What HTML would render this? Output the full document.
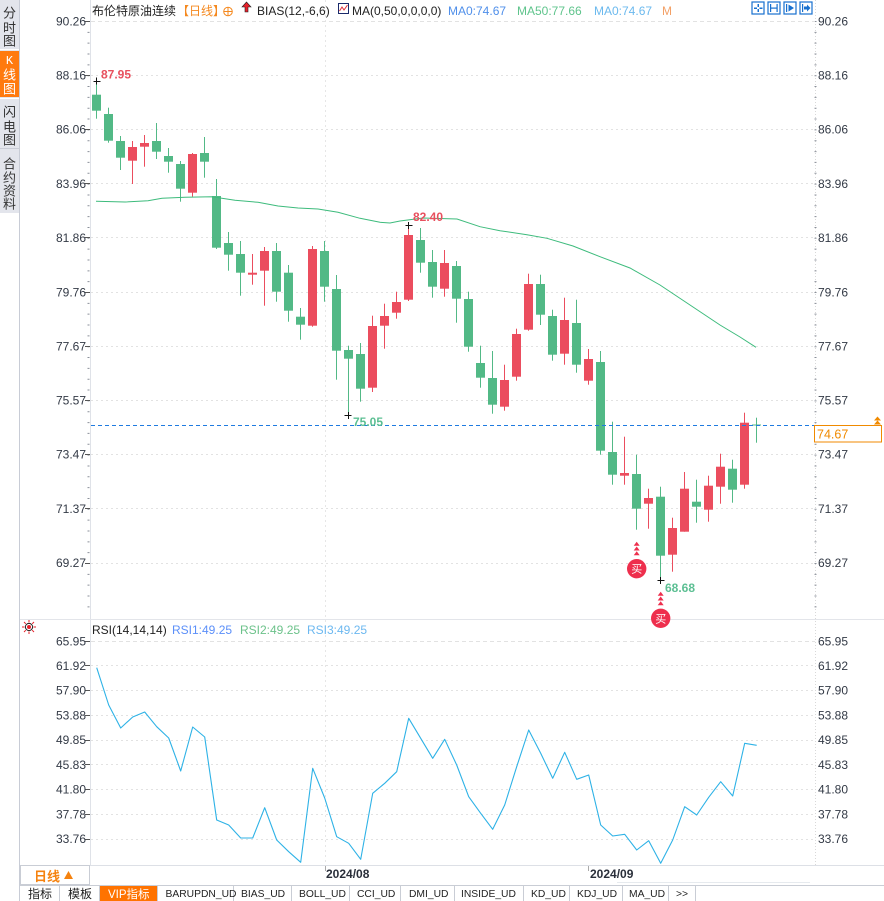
<!DOCTYPE html>
<html><head><meta charset="utf-8"><style>
html,body{margin:0;padding:0;background:#fff;}
svg{display:block;}
text{font-family:"Liberation Sans","Noto Sans CJK SC",sans-serif;}
.ax{font-size:12px;fill:#333a46;}
.tab{font-family:"Liberation Mono","Noto Sans CJK SC",monospace;font-size:10.3px;fill:#222;}
</style></head><body>
<svg width="884" height="901" viewBox="0 0 884 901" xmlns="http://www.w3.org/2000/svg">
<rect x="0" y="0" width="884" height="901" fill="#fff"/>

<!-- left sidebar -->
<rect x="0" y="0" width="19" height="213" fill="#e3e5ec"/>
<rect x="0" y="51" width="19" height="46" fill="#ff7a0e"/>
<line x1="0" y1="49.5" x2="19" y2="49.5" stroke="#fff"/>
<line x1="0" y1="98.5" x2="19" y2="98.5" stroke="#fff"/>
<line x1="0" y1="148.5" x2="19" y2="148.5" stroke="#c9ccd6"/>
<line x1="19.5" y1="0" x2="19.5" y2="901" stroke="#c8ccd6"/>
<g font-size="13" text-anchor="middle" fill="#333">
<text x="9.5" y="17.5">分</text><text x="9.5" y="32.5">时</text><text x="9.5" y="45.5">图</text>
<text x="9.5" y="64" fill="#fff" style="font-family:'Liberation Mono',monospace" font-size="12">K</text><text x="9.5" y="79.5" fill="#fff">线</text><text x="9.5" y="93.5" fill="#fff">图</text>
<text x="9.5" y="116.5">闪</text><text x="9.5" y="131.5">电</text><text x="9.5" y="144.5">图</text>
<text x="9.5" y="168.5">合</text><text x="9.5" y="182.5">约</text><text x="9.5" y="195.5">资</text><text x="9.5" y="208.5">料</text>
</g>

<!-- header -->
<text x="92" y="15" font-size="12" fill="#222">布伦特原油连续</text>
<text x="177" y="15" font-size="12" fill="#f5891f">【日线】</text>
<circle cx="228" cy="11.5" r="4.3" fill="none" stroke="#f5891f" stroke-width="1"/>
<line x1="223.7" y1="11.5" x2="232.3" y2="11.5" stroke="#f5891f"/>
<line x1="228" y1="7.2" x2="228" y2="15.8" stroke="#f5891f"/>
<polygon points="246.5,2 251,7 248,7 248,12 245,12 245,7 242,7" fill="#e8202a" stroke="#222" stroke-width="0.6"/>
<text x="257" y="15" font-size="12" fill="#222">BIAS(12,-6,6)</text>
<rect x="338.5" y="3.5" width="10" height="10" fill="#fff" stroke="#1b2a6b"/>
<polyline points="339.5,11 342,7 344,10 347.5,5" fill="none" stroke="#e0303a" stroke-width="1"/>
<text x="352" y="15" font-size="12" fill="#222">MA(0,50,0,0,0,0)</text>
<text x="448" y="15" font-size="12" fill="#4f8fea">MA0:74.67</text>
<text x="517" y="15" font-size="12" fill="#5fc48c">MA50:77.66</text>
<text x="594" y="15" font-size="12" fill="#6bb9ee">MA0:74.67</text>
<text x="662" y="15" font-size="12" fill="#f3a066">M</text>

<!-- top right icons -->
<g fill="none" stroke="#1870cf" stroke-width="1.2">
<rect x="752" y="2" width="12" height="12"/><rect x="768" y="2" width="12" height="12"/>
<rect x="784" y="2" width="12" height="12"/><rect x="800" y="2" width="12" height="12"/>
</g>
<g fill="#1870cf">
<rect x="757.5" y="4" width="1.5" height="3"/><rect x="757.5" y="9" width="1.5" height="3"/>
<rect x="754" y="7.5" width="3" height="1.5"/><rect x="759.5" y="7.5" width="3" height="1.5"/>
<rect x="770" y="4" width="1.2" height="8"/><rect x="776.5" y="4" width="1.2" height="8"/><rect x="771" y="7.5" width="5.5" height="1.2"/>
<rect x="786" y="4" width="1.2" height="8"/><polygon points="788.5,4.5 794,8 788.5,11.5"/>
<rect x="802" y="4" width="1.2" height="8"/><polygon points="804,6.5 807,6.5 807,4.5 810.5,8 807,11.5 807,9.5 804,9.5"/>
</g>

<!-- main pane grid -->
<line x1="90.5" y1="0" x2="90.5" y2="865" stroke="#dfe2e8"/>
<line x1="815.5" y1="0" x2="815.5" y2="865" stroke="#d8d8d8" stroke-dasharray="1,2"/>
<line x1="88.5" y1="21" x2="88.5" y2="612" stroke="#8a8f99" stroke-width="2" stroke-dasharray="1,9.84"/>
<line x1="815.5" y1="21" x2="815.5" y2="612" stroke="#8a8f99" stroke-width="2" stroke-dasharray="1,9.84"/>
<line x1="325.5" y1="0" x2="325.5" y2="865" stroke="#e6e6e6" stroke-dasharray="2,3"/>
<g stroke="#e2e2e2" stroke-dasharray="2,3">
<line x1="91" y1="21.5" x2="815" y2="21.5" stroke-dasharray="4,3"/>
<line x1="91" y1="75.5" x2="815" y2="75.5"/>
<line x1="91" y1="129.5" x2="815" y2="129.5"/>
<line x1="91" y1="183.5" x2="815" y2="183.5"/>
<line x1="91" y1="237.5" x2="815" y2="237.5"/>
<line x1="91" y1="292.5" x2="815" y2="292.5"/>
<line x1="91" y1="346.5" x2="815" y2="346.5"/>
<line x1="91" y1="400.5" x2="815" y2="400.5"/>
<line x1="91" y1="454.5" x2="815" y2="454.5"/>
<line x1="91" y1="508.5" x2="815" y2="508.5"/>
<line x1="91" y1="563.5" x2="815" y2="563.5"/>
</g>
<g stroke="#555" stroke-width="1">
<line x1="85" y1="21.5" x2="90" y2="21.5"/><line x1="85" y1="75.5" x2="90" y2="75.5"/><line x1="85" y1="129.5" x2="90" y2="129.5"/>
<line x1="85" y1="183.5" x2="90" y2="183.5"/><line x1="85" y1="237.5" x2="90" y2="237.5"/><line x1="85" y1="292.5" x2="90" y2="292.5"/>
<line x1="85" y1="346.5" x2="90" y2="346.5"/><line x1="85" y1="400.5" x2="90" y2="400.5"/><line x1="85" y1="454.5" x2="90" y2="454.5"/>
<line x1="85" y1="508.5" x2="90" y2="508.5"/><line x1="85" y1="563.5" x2="90" y2="563.5"/>
</g>
<g class="ax" text-anchor="end">
<text x="86" y="25.5">90.26</text><text x="86" y="79.5">88.16</text><text x="86" y="133.5">86.06</text>
<text x="86" y="188">83.96</text><text x="86" y="242">81.86</text><text x="86" y="296.5">79.76</text>
<text x="86" y="350.5">77.67</text><text x="86" y="404.5">75.57</text><text x="86" y="458.5">73.47</text>
<text x="86" y="513">71.37</text><text x="86" y="567">69.27</text>
</g>
<g class="ax">
<text x="818" y="25.5">90.26</text><text x="818" y="79.5">88.16</text><text x="818" y="133.5">86.06</text>
<text x="818" y="188">83.96</text><text x="818" y="242">81.86</text><text x="818" y="296.5">79.76</text>
<text x="818" y="350.5">77.67</text><text x="818" y="404.5">75.57</text><text x="818" y="458.5">73.47</text>
<text x="818" y="513">71.37</text><text x="818" y="567">69.27</text>
</g>

<!-- candles green -->
<g fill="#52b986">
<rect x="96" y="81" width="1" height="37.7"/><rect x="92" y="94.7" width="9" height="16"/>
<rect x="108" y="107.7" width="1" height="35"/><rect x="104" y="114" width="9" height="26.7"/>
<rect x="120" y="136" width="1" height="34"/><rect x="116" y="141" width="9" height="16.7"/>
<rect x="156" y="123" width="1" height="36"/><rect x="152" y="141" width="9" height="10.7"/>
<rect x="168" y="148" width="1" height="24.7"/><rect x="164" y="156" width="9" height="5.7"/>
<rect x="180" y="161" width="1" height="40.7"/><rect x="176" y="164" width="9" height="24.7"/>
<rect x="204" y="137" width="1" height="40.7"/><rect x="200" y="153" width="9" height="8.7"/>
<rect x="216" y="179" width="1" height="70"/><rect x="212" y="196" width="9" height="51.7"/>
<rect x="228" y="232" width="1" height="38.7"/><rect x="224" y="243" width="9" height="11.7"/>
<rect x="240" y="241" width="1" height="54.7"/><rect x="236" y="254" width="9" height="18.7"/>
<rect x="276" y="243" width="1" height="58.7"/><rect x="272" y="251" width="9" height="40.7"/>
<rect x="288" y="265" width="1" height="56.7"/><rect x="284" y="272.7" width="9" height="38"/>
<rect x="300" y="308" width="1" height="31.7"/><rect x="296" y="316.7" width="9" height="8"/>
<rect x="324" y="241" width="1" height="60.7"/><rect x="320" y="251" width="9" height="35.7"/>
<rect x="336" y="275" width="1" height="104.7"/><rect x="332" y="289" width="9" height="61.7"/>
<rect x="348" y="345.7" width="1" height="69.3"/><rect x="344" y="350" width="9" height="8.7"/>
<rect x="360" y="343" width="1" height="58.7"/><rect x="356" y="354" width="9" height="34.7"/>
<rect x="420" y="228" width="1" height="44.7"/><rect x="416" y="240" width="9" height="22.7"/>
<rect x="432" y="250" width="1" height="47.7"/><rect x="428" y="262" width="9" height="24.7"/>
<rect x="456" y="261" width="1" height="61.7"/><rect x="452" y="266" width="9" height="32.7"/>
<rect x="468" y="291.7" width="1" height="60"/><rect x="464" y="299" width="9" height="47.7"/>
<rect x="480" y="345.7" width="1" height="42"/><rect x="476" y="363" width="9" height="14.7"/>
<rect x="492" y="351" width="1" height="62.7"/><rect x="488" y="378" width="9" height="26.7"/>
<rect x="540" y="274.7" width="1" height="50.3"/><rect x="536" y="284" width="9" height="30.7"/>
<rect x="552" y="309.7" width="1" height="51"/><rect x="548" y="316" width="9" height="38.7"/>
<rect x="576" y="299.7" width="1" height="73"/><rect x="572" y="323" width="9" height="41.7"/>
<rect x="600" y="351" width="1" height="103.7"/><rect x="596" y="362" width="9" height="88.7"/>
<rect x="612" y="421.7" width="1" height="63"/><rect x="608" y="452" width="9" height="22.7"/>
<rect x="636" y="454.7" width="1" height="75"/><rect x="632" y="474" width="9" height="34.7"/>
<rect x="660" y="486.7" width="1" height="93.3"/><rect x="656" y="496.7" width="9" height="59"/>
<rect x="696" y="479.7" width="1" height="43"/><rect x="692" y="501.7" width="9" height="5"/>
<rect x="732" y="459.7" width="1" height="43"/><rect x="728" y="468.7" width="9" height="21"/>
<rect x="756" y="417.7" width="1" height="25"/><rect x="752" y="424.5" width="9" height="1"/>
</g>
<!-- candles red -->
<g fill="#eb4d5e">
<rect x="132" y="141" width="1" height="43"/><rect x="128" y="147" width="9" height="13.7"/>
<rect x="144" y="135" width="1" height="31.7"/><rect x="140" y="143" width="9" height="3.7"/>
<rect x="192" y="153" width="1" height="43.7"/><rect x="188" y="154" width="9" height="38.7"/>
<rect x="252" y="254" width="1" height="30.7"/><rect x="248" y="272.7" width="9" height="2"/>
<rect x="264" y="247" width="1" height="58.7"/><rect x="260" y="251" width="9" height="19.7"/>
<rect x="312" y="246" width="1" height="80.7"/><rect x="308" y="249" width="9" height="76.7"/>
<rect x="372" y="315.7" width="1" height="76.3"/><rect x="368" y="326" width="9" height="61.7"/>
<rect x="384" y="303.7" width="1" height="45"/><rect x="380" y="316" width="9" height="9.7"/>
<rect x="396" y="291.7" width="1" height="27"/><rect x="392" y="302" width="9" height="10.7"/>
<rect x="408" y="225" width="1" height="76"/><rect x="404" y="235" width="9" height="64.7"/>
<rect x="444" y="250" width="1" height="46.7"/><rect x="440" y="263" width="9" height="25.7"/>
<rect x="504" y="364.7" width="1" height="46"/><rect x="500" y="380" width="9" height="26.7"/>
<rect x="516" y="328.7" width="1" height="52"/><rect x="512" y="334" width="9" height="42.7"/>
<rect x="528" y="273.7" width="1" height="57"/><rect x="524" y="284" width="9" height="45.7"/>
<rect x="564" y="297.7" width="1" height="67"/><rect x="560" y="320" width="9" height="33.7"/>
<rect x="588" y="349" width="1" height="35.7"/><rect x="584" y="359" width="9" height="21.7"/>
<rect x="624" y="436.7" width="1" height="48"/><rect x="620" y="473" width="9" height="2.7"/>
<rect x="648" y="488.7" width="1" height="40"/><rect x="644" y="498" width="9" height="5.7"/>
<rect x="672" y="517.7" width="1" height="54"/><rect x="668" y="528" width="9" height="26.7"/>
<rect x="684" y="472" width="1" height="59.7"/><rect x="680" y="488.7" width="9" height="43"/>
<rect x="708" y="475.7" width="1" height="46"/><rect x="704" y="485.7" width="9" height="24"/>
<rect x="720" y="453.7" width="1" height="50"/><rect x="716" y="466.7" width="9" height="20"/>
<rect x="744" y="412.7" width="1" height="76"/><rect x="740" y="422.7" width="9" height="62"/>
</g>

<!-- MA50 -->
<path d="M96,201.3 L125,202 L148,200.7 L162,198.3 L185,197.3 L212,196.7 L235,200.3 L258,202.3 L278,206 L298,208 L318,209 L338,212.3 L360,218.3 L380,222.3 L390,223 L400,221 L423,218 L457,219 L480,226.7 L500,230.7 L527,234.7 L547,238.3 L573,246 L600,256.7 L630,268 L660,285 L690,305 L720,325 L740,337 L756,347.3" fill="none" stroke="#3dbb7c" stroke-width="1"/>

<!-- price line -->
<line x1="91" y1="425.5" x2="815" y2="425.5" stroke="#1f7be0" stroke-dasharray="4,3"/>
<rect x="814.5" y="425.5" width="67" height="16.5" fill="#fff" stroke="#f08a00"/>
<text x="817" y="438.5" font-size="12.5" fill="#f08a00">74.67</text>
<polygon points="877.5,416.5 881,420.5 874,420.5" fill="#f08a00"/>
<polygon points="877.5,420.5 881,424.5 874,424.5" fill="#f08a00"/>

<!-- extreme markers -->
<g stroke="#111" stroke-width="1">
<line x1="93.5" y1="81.5" x2="100.5" y2="81.5"/><line x1="96.5" y1="77.5" x2="96.5" y2="84.5"/>
<line x1="405.5" y1="225.5" x2="412.5" y2="225.5"/><line x1="408.5" y1="222" x2="408.5" y2="229"/>
<line x1="344.5" y1="415.5" x2="351.5" y2="415.5"/><line x1="348.5" y1="412" x2="348.5" y2="419"/>
<line x1="657.5" y1="580.5" x2="664.5" y2="580.5"/><line x1="660.5" y1="577" x2="660.5" y2="584"/>
</g>
<g font-size="12" font-weight="bold">
<text x="101" y="78.5" fill="#e8505e">87.95</text>
<text x="413" y="221" fill="#e8505e">82.40</text>
<text x="353" y="426" fill="#5cbf93">75.05</text>
<text x="665" y="592" fill="#5cbf93">68.68</text>
</g>

<!-- buy markers -->
<g fill="#ee2f4d">
<polygon points="636.7,541.7 639.7,545.7 633.7,545.7"/><polygon points="636.7,546.5 639.7,550.5 633.7,550.5"/><polygon points="636.7,551.3 639.7,555.3 633.7,555.3"/>
<circle cx="636.7" cy="568.7" r="9.7"/>
<polygon points="660.7,591.7 663.7,595.7 657.7,595.7"/><polygon points="660.7,596.5 663.7,600.5 657.7,600.5"/><polygon points="660.7,601.3 663.7,605.3 657.7,605.3"/>
</g>

<!-- pane separator -->
<line x1="20" y1="619.5" x2="884" y2="619.5" stroke="#e3e5ea"/>
<circle cx="660.7" cy="618.3" r="9.7" fill="#ee2f4d"/>
<text x="636.7" y="572.7" font-size="11" fill="#fff" text-anchor="middle">买</text>
<text x="660.7" y="622.3" font-size="11" fill="#fff" text-anchor="middle">买</text>

<!-- RSI header -->
<g stroke="#e8202a" stroke-width="1">
<line x1="29" y1="620" x2="29" y2="622.5"/><line x1="29" y1="631.5" x2="29" y2="634"/>
<line x1="22" y1="627" x2="24.5" y2="627"/><line x1="33.5" y1="627" x2="36" y2="627"/>
<line x1="24" y1="622" x2="25.8" y2="623.8"/><line x1="32.2" y1="630.2" x2="34" y2="632"/>
<line x1="34" y1="622" x2="32.2" y2="623.8"/><line x1="25.8" y1="630.2" x2="24" y2="632"/>
</g>
<circle cx="29" cy="627" r="3.6" fill="#fff" stroke="#222" stroke-width="1"/>
<circle cx="29" cy="627" r="2" fill="#e8202a"/>
<text x="92" y="634" font-size="12" fill="#222">RSI(14,14,14)</text>
<text x="172" y="634" font-size="12" fill="#5b8ff9">RSI1:49.25</text>
<text x="240" y="634" font-size="12" fill="#6cc28a">RSI2:49.25</text>
<text x="307" y="634" font-size="12" fill="#6cb8f0">RSI3:49.25</text>

<!-- RSI grid -->
<g stroke="#e2e2e2" stroke-dasharray="2,3">
<line x1="91" y1="641.5" x2="815" y2="641.5" stroke-dasharray="4,3"/>
<line x1="91" y1="665.5" x2="815" y2="665.5"/>
<line x1="91" y1="690.5" x2="815" y2="690.5"/>
<line x1="91" y1="715.5" x2="815" y2="715.5"/>
<line x1="91" y1="740.5" x2="815" y2="740.5"/>
<line x1="91" y1="764.5" x2="815" y2="764.5"/>
<line x1="91" y1="789.5" x2="815" y2="789.5"/>
<line x1="91" y1="814.5" x2="815" y2="814.5"/>
<line x1="91" y1="839.5" x2="815" y2="839.5"/>
</g>
<g stroke="#555">
<line x1="85" y1="641.5" x2="90" y2="641.5"/><line x1="85" y1="665.5" x2="90" y2="665.5"/><line x1="85" y1="690.5" x2="90" y2="690.5"/>
<line x1="85" y1="715.5" x2="90" y2="715.5"/><line x1="85" y1="740.5" x2="90" y2="740.5"/><line x1="85" y1="764.5" x2="90" y2="764.5"/>
<line x1="85" y1="789.5" x2="90" y2="789.5"/><line x1="85" y1="814.5" x2="90" y2="814.5"/><line x1="85" y1="839.5" x2="90" y2="839.5"/>
</g>
<g class="ax" text-anchor="end">
<text x="86" y="645.5">65.95</text><text x="86" y="670">61.92</text><text x="86" y="694.5">57.90</text>
<text x="86" y="719.5">53.88</text><text x="86" y="744">49.85</text><text x="86" y="769">45.83</text>
<text x="86" y="793.5">41.80</text><text x="86" y="818.5">37.78</text><text x="86" y="843">33.76</text>
</g>
<g class="ax">
<text x="818" y="645.5">65.95</text><text x="818" y="670">61.92</text><text x="818" y="694.5">57.90</text>
<text x="818" y="719.5">53.88</text><text x="818" y="744">49.85</text><text x="818" y="769">45.83</text>
<text x="818" y="793.5">41.80</text><text x="818" y="818.5">37.78</text><text x="818" y="843">33.76</text>
</g>

<!-- RSI line -->
<polyline fill="none" stroke="#2eb2e6" stroke-width="1.1" stroke-linejoin="round" points="96.7,667.7 108.7,705 120.7,728 132.7,717 144.7,712 156.7,726.7 168.7,738 180.7,771 192.7,727 204.7,737 216.7,820 228.7,825 240.7,838 252.7,838 264.7,807.7 276.7,840 288.7,851.7 300.7,862.3 312.7,768.3 324.7,798 336.7,836.7 348.7,843.3 360.7,859.3 372.7,793.3 384.7,783.3 396.7,771.7 408.7,718.3 420.7,738.3 432.7,758.3 444.7,739.3 456.7,765 468.7,796.7 480.7,813.3 492.7,829.3 504.7,805 516.7,766.7 528.7,730 540.7,753.3 552.7,778.3 564.7,752.3 576.7,779.3 588.7,775 600.7,825 612.7,836 624.7,834.3 636.7,850 648.7,840.7 660.7,863.3 672.7,840 684.7,806.7 696.7,815 708.7,797.3 720.7,781.7 732.7,796 744.7,743.3 756.7,745.3"/>

<!-- x axis -->
<line x1="20" y1="865.5" x2="884" y2="865.5" stroke="#dde0e6"/>
<rect x="20.5" y="865.5" width="69" height="19" fill="#fff" stroke="#c9cdd5"/>
<text x="34" y="881" font-size="13" font-weight="bold" fill="#f5820f">日线</text>
<polygon points="68.5,871 73,879 64,879" fill="#f5820f"/>
<line x1="325.5" y1="866" x2="325.5" y2="871" stroke="#aaa"/>
<line x1="588.5" y1="866" x2="588.5" y2="871" stroke="#aaa"/>
<text x="326" y="878" font-size="12" font-weight="bold" fill="#2a2f3a">2024/08</text>
<text x="590" y="878" font-size="12" font-weight="bold" fill="#2a2f3a">2024/09</text>
<line x1="617" y1="882.5" x2="810" y2="882.5" stroke="#e6eaee"/>

<!-- tabs -->
<line x1="20" y1="885.5" x2="884" y2="885.5" stroke="#c9cdd5"/>
<rect x="99" y="886" width="58" height="15" fill="#ff7300"/>
<g stroke="#c9cdd5">
<line x1="59.5" y1="886" x2="59.5" y2="901"/><line x1="99.5" y1="886" x2="99.5" y2="901"/>
<line x1="157.5" y1="886" x2="157.5" y2="901"/><line x1="233.5" y1="886" x2="233.5" y2="901"/>
<line x1="291.5" y1="886" x2="291.5" y2="901"/><line x1="349.5" y1="886" x2="349.5" y2="901"/>
<line x1="400.5" y1="886" x2="400.5" y2="901"/><line x1="454.5" y1="886" x2="454.5" y2="901"/>
<line x1="523.5" y1="886" x2="523.5" y2="901"/><line x1="569.5" y1="886" x2="569.5" y2="901"/>
<line x1="622.5" y1="886" x2="622.5" y2="901"/><line x1="668.5" y1="886" x2="668.5" y2="901"/>
<line x1="695.5" y1="886" x2="695.5" y2="901"/>
</g>
<g font-size="12" fill="#222">
<text x="28" y="898">指标</text>
<text x="68" y="898">模板</text>
<text x="108" y="898" fill="#fff" font-size="11.5">VIP指标</text>
</g>
<g class="tab">
<text x="165.5" y="897">BARUPDN_UD</text>
<text x="241" y="897">BIAS_UD</text>
<text x="299" y="897">BOLL_UD</text>
<text x="357" y="897">CCI_UD</text>
<text x="409" y="897">DMI_UD</text>
<text x="461" y="897">INSIDE_UD</text>
<text x="531" y="897">KD_UD</text>
<text x="577" y="897">KDJ_UD</text>
<text x="629" y="897">MA_UD</text>
<text x="676" y="897">&gt;&gt;</text>
</g>
</svg>
</body></html>
